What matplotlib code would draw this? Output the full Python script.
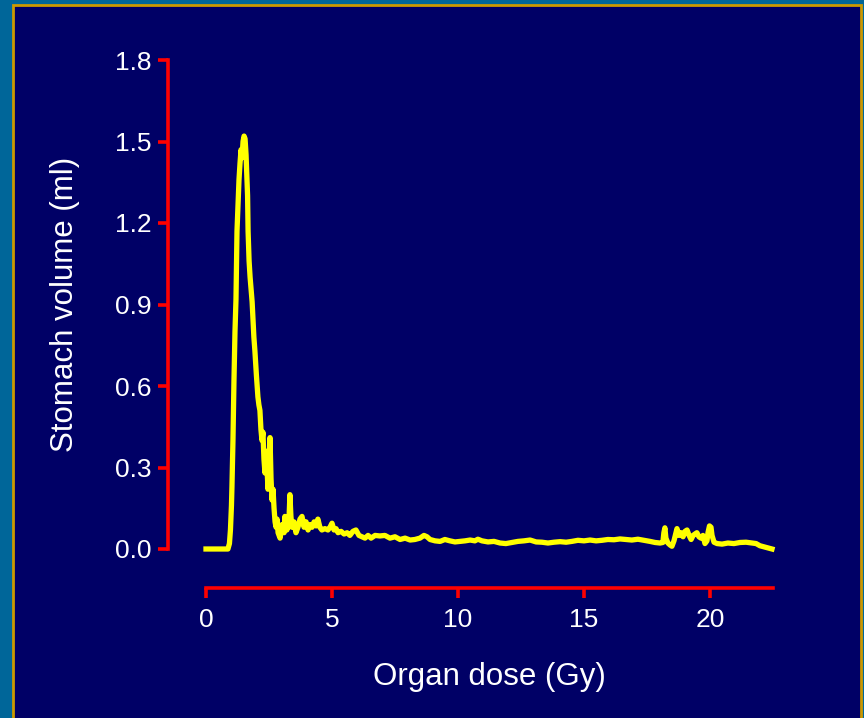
import matplotlib
matplotlib.use("Agg")
import matplotlib.pyplot as plt
from matplotlib.patches import Rectangle

# dose (Gy) and stomach volume (ml)
dose = [0.00, 0.48, 0.87, 0.93, 0.97, 1.01, 1.03, 1.07, 1.11, 1.15,
        1.19, 1.21, 1.23, 1.27, 1.31, 1.35, 1.39, 1.43, 1.47, 1.51,
        1.55, 1.59, 1.61, 1.65, 1.67, 1.71, 1.75, 1.83, 1.87, 1.90,
        1.94, 2.00, 2.06, 2.10, 2.14, 2.18, 2.22, 2.26, 2.30, 2.34,
        2.38, 2.42, 2.46, 2.50, 2.54, 2.58, 2.62, 2.66, 2.70, 2.74,
        2.78, 2.82, 2.86, 2.94, 3.02, 3.10, 3.13, 3.21, 3.29, 3.33,
        3.37, 3.41, 3.49, 3.57, 3.65, 3.73, 3.81, 3.89, 3.97, 4.05,
        4.13, 4.21, 4.29, 4.37, 4.44, 4.52, 4.60, 4.72, 4.84, 4.92,
        5.00, 5.08, 5.16, 5.24, 5.36, 5.48, 5.60, 5.71, 5.83, 5.95,
        6.07, 6.19, 6.31, 6.43, 6.55, 6.71, 6.90, 7.10, 7.30, 7.50,
        7.70, 7.90, 8.10, 8.29, 8.49, 8.65, 8.77, 8.89, 9.09, 9.29,
        9.48, 9.68, 9.88, 10.08, 10.28, 10.48, 10.67, 10.79, 10.95, 11.19,
        11.43, 11.67, 11.90, 12.14, 12.38, 12.62, 12.86, 13.10, 13.33, 13.57,
        13.81, 14.05, 14.29, 14.52, 14.76, 15.00, 15.24, 15.48, 15.71, 15.95,
        16.19, 16.43, 16.67, 16.90, 17.14, 17.38, 17.62, 17.82, 18.02, 18.13,
        18.17, 18.21, 18.25, 18.33, 18.41, 18.49, 18.57, 18.65, 18.69, 18.77,
        18.85, 18.93, 19.01, 19.09, 19.17, 19.25, 19.33, 19.40, 19.48, 19.56,
        19.64, 19.72, 19.80, 19.88, 19.92, 19.98, 20.04, 20.08, 20.16, 20.28,
        20.48, 20.71, 20.95, 21.19, 21.43, 21.67, 21.83, 21.98, 22.14, 22.30,
        22.46]
volume = [0.0, 0.0, 0.0, 0.02, 0.07, 0.16, 0.23, 0.40, 0.62, 0.80,
          0.92, 1.05, 1.17, 1.27, 1.36, 1.42, 1.47, 1.44, 1.50, 1.52,
          1.51, 1.45, 1.40, 1.30, 1.17, 1.06, 1.00, 0.91, 0.84, 0.78,
          0.73, 0.64, 0.56, 0.53, 0.51, 0.44, 0.40, 0.43, 0.33, 0.28,
          0.36, 0.30, 0.22, 0.30, 0.41, 0.26, 0.18, 0.22, 0.15, 0.10,
          0.08, 0.11, 0.06, 0.04, 0.09, 0.06, 0.12, 0.07, 0.10, 0.20,
          0.12, 0.08, 0.10, 0.06, 0.08, 0.11, 0.12, 0.08, 0.10, 0.07,
          0.09, 0.08, 0.10, 0.085, 0.11, 0.08, 0.07, 0.075, 0.07, 0.08,
          0.095, 0.07, 0.075, 0.06, 0.065, 0.055, 0.06, 0.05, 0.065, 0.07,
          0.05, 0.045, 0.04, 0.05, 0.04, 0.05, 0.048, 0.05, 0.04, 0.045,
          0.035, 0.04, 0.033, 0.035, 0.04, 0.05, 0.045, 0.035, 0.03, 0.028,
          0.035, 0.03, 0.026, 0.028, 0.03, 0.033, 0.03, 0.036, 0.03, 0.026,
          0.028, 0.022, 0.02, 0.024, 0.028, 0.03, 0.033, 0.026, 0.025, 0.022,
          0.025, 0.027, 0.025, 0.028, 0.032, 0.03, 0.033, 0.03, 0.032, 0.035,
          0.034, 0.037, 0.035, 0.033, 0.036, 0.032, 0.028, 0.024, 0.022, 0.024,
          0.06, 0.078, 0.04, 0.022, 0.015, 0.01, 0.03, 0.06, 0.075, 0.05,
          0.06, 0.045, 0.065, 0.07, 0.05, 0.035, 0.05, 0.055, 0.06, 0.045,
          0.04, 0.05, 0.02, 0.03, 0.06, 0.085, 0.08, 0.05, 0.025, 0.02,
          0.018, 0.022, 0.02, 0.024, 0.025, 0.022, 0.02, 0.012, 0.008, 0.004,
          0.0]

x_ticks = [0, 5, 10, 15, 20]
y_ticks = [0.0, 0.3, 0.6, 0.9, 1.2, 1.5, 1.8]

plt.rcParams['font.family'] = ['Liberation Sans', 'DejaVu Sans']

W, H = 864, 718
fig = plt.figure(figsize=(W / 100, H / 100), dpi=100)
fig.patch.set_facecolor('#006699')
# navy slide panel with gold edge, kept behind the axes
fig.add_artist(Rectangle((13 / W, -0.02), (861 - 13) / W, (H - 5) / H + 0.02,
                         transform=fig.transFigure, facecolor='#000066',
                         edgecolor='#CC9900', linewidth=2, zorder=-5))

ax = fig.add_axes([206 / W, 169 / H, 567 / W, 489 / H])
ax.patch.set_alpha(0)
ax.plot(dose, volume, color='#FFFF00', linewidth=3.8, clip_on=False,
        solid_joinstyle='round')

ax.set_xlim(0, 22.5)
ax.set_ylim(0, 1.8)
ax.set_xticks(x_ticks)
ax.set_yticks(y_ticks)
ax.set_yticklabels([f"{v:.1f}" for v in y_ticks])

for side in ['top', 'right']:
    ax.spines[side].set_visible(False)
# offsets are in points (38 px / 39 px at 100 dpi)
ax.spines['left'].set_position(('outward', 27.4))
ax.spines['bottom'].set_position(('outward', 28.1))
for side in ['left', 'bottom']:
    ax.spines[side].set_color('#FF0000')
    ax.spines[side].set_linewidth(2.6)
    ax.spines[side].set_capstyle('projecting')

ax.tick_params(colors='#FF0000', labelcolor='white', length=7.5, width=2.6,
               labelsize=19, pad=4)
ax.tick_params(axis='x', pad=7)

ax.set_xlabel('Organ dose (Gy)', color='white', fontsize=22.5, va='center')
ax.set_ylabel('Stomach volume (ml)', color='white', fontsize=22.5, va='center')
ax.xaxis.set_label_coords(0.5, -0.262)
ax.yaxis.set_label_coords(-0.249, 0.5)

fig.savefig('out.png', dpi=100, facecolor=fig.get_facecolor())
